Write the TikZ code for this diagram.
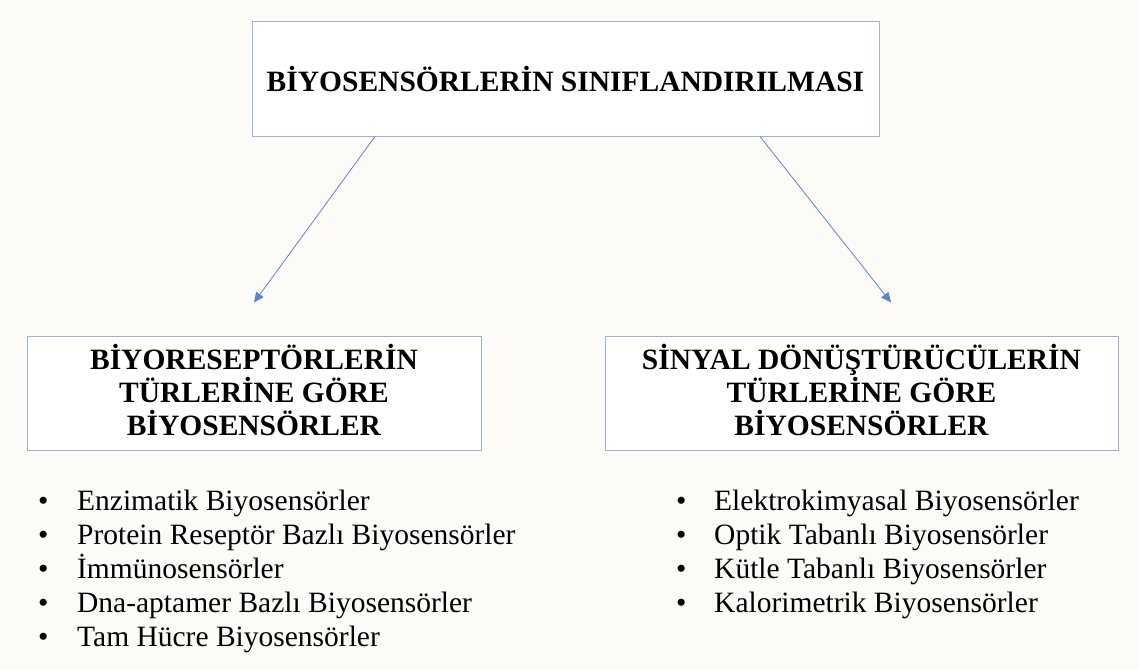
\documentclass[tikz,border=0pt]{standalone}
\usepackage{fontspec}
\setmainfont{Liberation Serif}
\usepackage{xcolor}
\usepackage{tikz}
\usetikzlibrary{arrows.meta,positioning}

\definecolor{bgcream}{RGB}{252,251,247}
\definecolor{boxline}{RGB}{160,176,214}
\definecolor{arrowblue}{RGB}{95,130,205}

\begin{document}
\begin{tikzpicture}[x=1pt, y=-1pt,
    catbox/.style={draw=boxline, line width=1pt, fill=white, rectangle, minimum height=114pt, align=center, inner sep=0pt, font=\fontsize{29.5}{33}\selectfont\bfseries},
    item/.style={anchor=base west, inner sep=0pt, font=\fontsize{29.5}{34}\selectfont},
    link/.style={draw=arrowblue, line width=0.8pt, -{Triangle[length=10pt, width=9pt, fill=arrowblue]}}]
    \fill[bgcream] (0,0) rectangle (1139,669);
    \useasboundingbox (0,0) rectangle (1139,669);

    \node[catbox, minimum width=627pt] (root) at (565.5,79) {BİYOSENSÖRLERİN SINIFLANDIRILMASI};
    \node[catbox, minimum width=454pt, text depth=7pt] (bio) at (254,393) {BİYORESEPTÖRLERİN\\TÜRLERİNE GÖRE\\BİYOSENSÖRLER};
    \node[catbox, minimum width=513pt, text depth=7pt] (sig) at (861.5,393) {SİNYAL DÖNÜŞTÜRÜCÜLERİN\\TÜRLERİNE GÖRE\\BİYOSENSÖRLER};

    \coordinate (bioin) at ([yshift=33pt]bio.north);
    \coordinate (sigin) at ([xshift=29.5pt, yshift=33pt]sig.north);

    \draw[link] ([xshift=-190.5pt]root.south) -- (bioin);
    \draw[link] ([xshift=194.5pt]root.south) -- (sigin);

    % left list
    \node[item] (bio1) at (38,510) {\makebox[39pt][l]{•}Enzimatik Biyosensörler};
    \node[item] (bio2) at (38,544.2) {\makebox[39pt][l]{•}Protein Reseptör Bazlı Biyosensörler};
    \node[item] (bio3) at (38,578.4) {\makebox[39pt][l]{•}İmmünosensörler};
    \node[item] (bio4) at (38,612.6) {\makebox[39pt][l]{•}Dna-aptamer Bazlı Biyosensörler};
    \node[item] (bio5) at (38,646.8) {\makebox[39pt][l]{•}Tam Hücre Biyosensörler};

    % right list
    \node[item] (sig1) at (676,510) {\makebox[38pt][l]{•}Elektrokimyasal Biyosensörler};
    \node[item] (sig2) at (676,544.2) {\makebox[38pt][l]{•}Optik Tabanlı Biyosensörler};
    \node[item] (sig3) at (676,578.4) {\makebox[38pt][l]{•}Kütle Tabanlı Biyosensörler};
    \node[item] (sig4) at (676,612.6) {\makebox[38pt][l]{•}Kalorimetrik Biyosensörler};
\end{tikzpicture}
\end{document}
